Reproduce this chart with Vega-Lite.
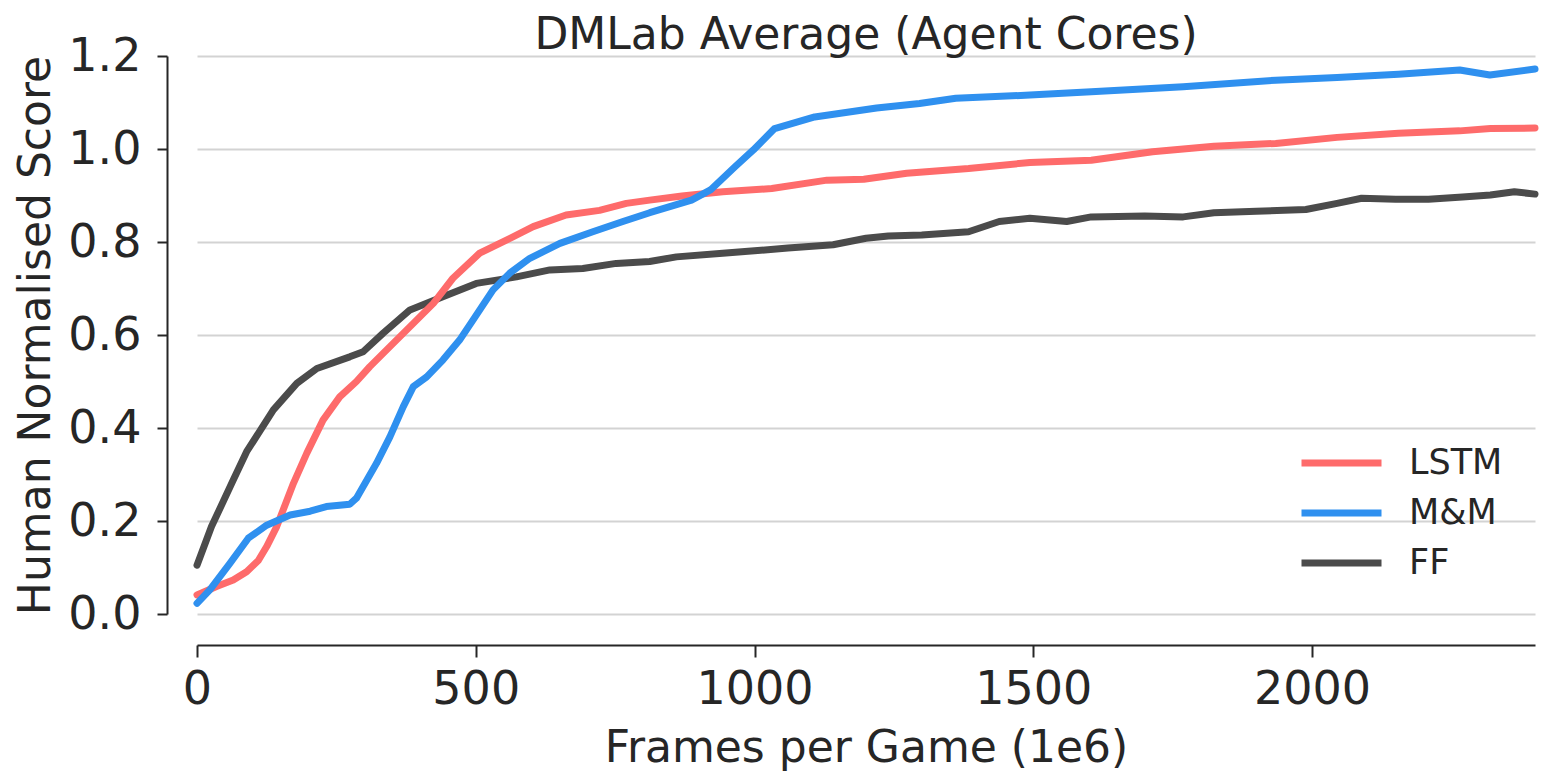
{
  "$schema": "https://vega.github.io/schema/vega-lite/v6.json",
  "width": 1338,
  "height": 558,
  "autosize": {"type": "none"},
  "padding": {"left": 197, "top": 56, "right": 15, "bottom": 169},
  "background": "white",
  "title": {
    "text": "DMLab Average (Agent Cores)",
    "fontSize": 44,
    "fontWeight": "normal",
    "color": "#262626",
    "anchor": "middle",
    "frame": "group",
    "baseline": "alphabetic",
    "offset": 6,
    "dy": 66
  },
  "datasets": {
    "curves": [
      {"frames": 0, "score": 0.105, "agent": "FF"},
      {"frames": 26, "score": 0.188, "agent": "FF"},
      {"frames": 65, "score": 0.288, "agent": "FF"},
      {"frames": 89, "score": 0.349, "agent": "FF"},
      {"frames": 137, "score": 0.439, "agent": "FF"},
      {"frames": 179, "score": 0.496, "agent": "FF"},
      {"frames": 215, "score": 0.528, "agent": "FF"},
      {"frames": 274, "score": 0.553, "agent": "FF"},
      {"frames": 298, "score": 0.564, "agent": "FF"},
      {"frames": 334, "score": 0.604, "agent": "FF"},
      {"frames": 382, "score": 0.654, "agent": "FF"},
      {"frames": 441, "score": 0.682, "agent": "FF"},
      {"frames": 501, "score": 0.711, "agent": "FF"},
      {"frames": 573, "score": 0.725, "agent": "FF"},
      {"frames": 633, "score": 0.740, "agent": "FF"},
      {"frames": 692, "score": 0.743, "agent": "FF"},
      {"frames": 752, "score": 0.754, "agent": "FF"},
      {"frames": 812, "score": 0.758, "agent": "FF"},
      {"frames": 860, "score": 0.768, "agent": "FF"},
      {"frames": 943, "score": 0.776, "agent": "FF"},
      {"frames": 1000, "score": 0.781, "agent": "FF"},
      {"frames": 1060, "score": 0.787, "agent": "FF"},
      {"frames": 1141, "score": 0.794, "agent": "FF"},
      {"frames": 1200, "score": 0.808, "agent": "FF"},
      {"frames": 1240, "score": 0.813, "agent": "FF"},
      {"frames": 1300, "score": 0.815, "agent": "FF"},
      {"frames": 1384, "score": 0.822, "agent": "FF"},
      {"frames": 1439, "score": 0.844, "agent": "FF"},
      {"frames": 1494, "score": 0.851, "agent": "FF"},
      {"frames": 1560, "score": 0.844, "agent": "FF"},
      {"frames": 1604, "score": 0.854, "agent": "FF"},
      {"frames": 1700, "score": 0.856, "agent": "FF"},
      {"frames": 1769, "score": 0.854, "agent": "FF"},
      {"frames": 1824, "score": 0.863, "agent": "FF"},
      {"frames": 1900, "score": 0.866, "agent": "FF"},
      {"frames": 1989, "score": 0.870, "agent": "FF"},
      {"frames": 2045, "score": 0.883, "agent": "FF"},
      {"frames": 2089, "score": 0.894, "agent": "FF"},
      {"frames": 2150, "score": 0.892, "agent": "FF"},
      {"frames": 2209, "score": 0.892, "agent": "FF"},
      {"frames": 2270, "score": 0.897, "agent": "FF"},
      {"frames": 2320, "score": 0.901, "agent": "FF"},
      {"frames": 2363, "score": 0.908, "agent": "FF"},
      {"frames": 2400, "score": 0.903, "agent": "FF"},

      {"frames": 0, "score": 0.041, "agent": "LSTM"},
      {"frames": 35, "score": 0.059, "agent": "LSTM"},
      {"frames": 65, "score": 0.073, "agent": "LSTM"},
      {"frames": 89, "score": 0.091, "agent": "LSTM"},
      {"frames": 110, "score": 0.115, "agent": "LSTM"},
      {"frames": 125, "score": 0.145, "agent": "LSTM"},
      {"frames": 143, "score": 0.188, "agent": "LSTM"},
      {"frames": 173, "score": 0.281, "agent": "LSTM"},
      {"frames": 197, "score": 0.346, "agent": "LSTM"},
      {"frames": 226, "score": 0.417, "agent": "LSTM"},
      {"frames": 256, "score": 0.467, "agent": "LSTM"},
      {"frames": 286, "score": 0.500, "agent": "LSTM"},
      {"frames": 310, "score": 0.532, "agent": "LSTM"},
      {"frames": 346, "score": 0.575, "agent": "LSTM"},
      {"frames": 388, "score": 0.625, "agent": "LSTM"},
      {"frames": 424, "score": 0.668, "agent": "LSTM"},
      {"frames": 459, "score": 0.722, "agent": "LSTM"},
      {"frames": 507, "score": 0.776, "agent": "LSTM"},
      {"frames": 555, "score": 0.804, "agent": "LSTM"},
      {"frames": 603, "score": 0.833, "agent": "LSTM"},
      {"frames": 662, "score": 0.858, "agent": "LSTM"},
      {"frames": 722, "score": 0.868, "agent": "LSTM"},
      {"frames": 770, "score": 0.883, "agent": "LSTM"},
      {"frames": 812, "score": 0.890, "agent": "LSTM"},
      {"frames": 870, "score": 0.899, "agent": "LSTM"},
      {"frames": 943, "score": 0.908, "agent": "LSTM"},
      {"frames": 1031, "score": 0.915, "agent": "LSTM"},
      {"frames": 1130, "score": 0.933, "agent": "LSTM"},
      {"frames": 1196, "score": 0.935, "agent": "LSTM"},
      {"frames": 1273, "score": 0.948, "agent": "LSTM"},
      {"frames": 1384, "score": 0.958, "agent": "LSTM"},
      {"frames": 1494, "score": 0.971, "agent": "LSTM"},
      {"frames": 1604, "score": 0.976, "agent": "LSTM"},
      {"frames": 1714, "score": 0.994, "agent": "LSTM"},
      {"frames": 1824, "score": 1.006, "agent": "LSTM"},
      {"frames": 1935, "score": 1.012, "agent": "LSTM"},
      {"frames": 2045, "score": 1.025, "agent": "LSTM"},
      {"frames": 2155, "score": 1.034, "agent": "LSTM"},
      {"frames": 2265, "score": 1.039, "agent": "LSTM"},
      {"frames": 2320, "score": 1.044, "agent": "LSTM"},
      {"frames": 2400, "score": 1.045, "agent": "LSTM"},

      {"frames": 0, "score": 0.023, "agent": "M&M"},
      {"frames": 23, "score": 0.052, "agent": "M&M"},
      {"frames": 59, "score": 0.109, "agent": "M&M"},
      {"frames": 92, "score": 0.163, "agent": "M&M"},
      {"frames": 125, "score": 0.191, "agent": "M&M"},
      {"frames": 167, "score": 0.213, "agent": "M&M"},
      {"frames": 203, "score": 0.221, "agent": "M&M"},
      {"frames": 232, "score": 0.231, "agent": "M&M"},
      {"frames": 274, "score": 0.236, "agent": "M&M"},
      {"frames": 286, "score": 0.249, "agent": "M&M"},
      {"frames": 322, "score": 0.324, "agent": "M&M"},
      {"frames": 346, "score": 0.381, "agent": "M&M"},
      {"frames": 370, "score": 0.446, "agent": "M&M"},
      {"frames": 388, "score": 0.489, "agent": "M&M"},
      {"frames": 412, "score": 0.510, "agent": "M&M"},
      {"frames": 441, "score": 0.546, "agent": "M&M"},
      {"frames": 471, "score": 0.589, "agent": "M&M"},
      {"frames": 495, "score": 0.632, "agent": "M&M"},
      {"frames": 531, "score": 0.697, "agent": "M&M"},
      {"frames": 561, "score": 0.733, "agent": "M&M"},
      {"frames": 597, "score": 0.765, "agent": "M&M"},
      {"frames": 651, "score": 0.797, "agent": "M&M"},
      {"frames": 710, "score": 0.822, "agent": "M&M"},
      {"frames": 764, "score": 0.844, "agent": "M&M"},
      {"frames": 812, "score": 0.863, "agent": "M&M"},
      {"frames": 887, "score": 0.890, "agent": "M&M"},
      {"frames": 921, "score": 0.912, "agent": "M&M"},
      {"frames": 965, "score": 0.962, "agent": "M&M"},
      {"frames": 998, "score": 0.998, "agent": "M&M"},
      {"frames": 1036, "score": 1.044, "agent": "M&M"},
      {"frames": 1108, "score": 1.069, "agent": "M&M"},
      {"frames": 1219, "score": 1.088, "agent": "M&M"},
      {"frames": 1296, "score": 1.098, "agent": "M&M"},
      {"frames": 1361, "score": 1.109, "agent": "M&M"},
      {"frames": 1494, "score": 1.116, "agent": "M&M"},
      {"frames": 1604, "score": 1.123, "agent": "M&M"},
      {"frames": 1769, "score": 1.134, "agent": "M&M"},
      {"frames": 1935, "score": 1.148, "agent": "M&M"},
      {"frames": 2045, "score": 1.154, "agent": "M&M"},
      {"frames": 2155, "score": 1.161, "agent": "M&M"},
      {"frames": 2265, "score": 1.170, "agent": "M&M"},
      {"frames": 2319, "score": 1.159, "agent": "M&M"},
      {"frames": 2400, "score": 1.172, "agent": "M&M"}
    ],
    "human": [{"level": 1.0}]
  },
  "layer": [
    {
      "data": {"name": "human"},
      "mark": {"type": "rule", "color": "black", "strokeWidth": 2.2, "strokeDash": [8, 6]},
      "encoding": {
        "y": {"field": "level", "type": "quantitative"}
      }
    },
    {
      "data": {"name": "curves"},
      "mark": {"type": "line", "strokeWidth": 7, "strokeJoin": "round", "strokeCap": "round"},
      "encoding": {
        "x": {"field": "frames", "type": "quantitative"},
        "y": {"field": "score", "type": "quantitative"},
        "color": {
          "field": "agent",
          "type": "nominal",
          "scale": {"domain": ["LSTM", "M&M", "FF"], "range": ["#fe6b6b", "#2f90ef", "#4b4b4b"]},
          "legend": {
            "title": null,
            "orient": "none",
            "legendX": 1101,
            "legendY": 382,
            "symbolType": "stroke",
            "symbolSize": 6400,
            "symbolStrokeWidth": 7,
            "labelFontSize": 35,
            "labelColor": "#262626",
            "labelOffset": 24,
            "clipHeight": 50,
            "rowPadding": 0
          }
        }
      }
    }
  ],
  "resolve": {"scale": {"x": "shared", "y": "shared"}},
  "encoding": {
    "x": {
      "field": "frames",
      "type": "quantitative",
      "title": "Frames per Game (1e6)",
      "scale": {"domain": [0, 2400], "nice": false, "zero": false},
      "axis": {
        "values": [0, 500, 1000, 1500, 2000],
        "format": "d",
        "labelFlush": false,
        "grid": false,
        "offset": 31,
        "tickSize": 12,
        "labelPadding": 10,
        "titlePadding": 14
      }
    },
    "y": {
      "field": "score",
      "type": "quantitative",
      "title": "Human Normalised Score",
      "scale": {"domain": [0, 1.2], "nice": false},
      "axis": {
        "values": [0, 0.2, 0.4, 0.6, 0.8, 1.0, 1.2],
        "format": ".1f",
        "labelFlush": false,
        "grid": true,
        "offset": 30,
        "tickSize": 10,
        "labelPadding": 16,
        "titlePadding": 9
      }
    }
  },
  "config": {
    "font": "DejaVu Sans",
    "view": {"stroke": null},
    "axis": {
      "domainColor": "#262626",
      "domainWidth": 2,
      "tickColor": "#262626",
      "tickWidth": 2,
      "gridColor": "#d3d3d3",
      "gridWidth": 2,
      "labelFontSize": 46,
      "labelColor": "#262626",
      "titleFontSize": 44,
      "titleFontWeight": "normal",
      "titleColor": "#262626"
    }
  }
}
